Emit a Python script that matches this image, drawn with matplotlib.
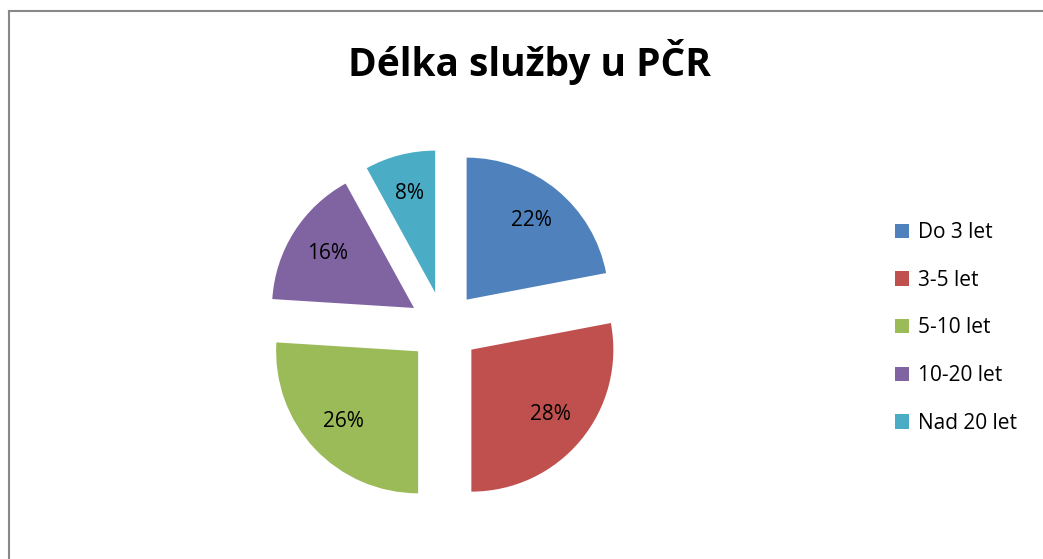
import numpy as np
from matplotlib import pyplot as plt
from matplotlib.lines import Line2D

plt.rcParams['font.family'] = ['Open Sans', 'DejaVu Sans']

# data
labels = ["Do 3 let", "3-5 let", "5-10 let", "10-20 let", "Nad 20 let"]
shares = [22, 28, 26, 16, 8]
colors = ["#4F81BD", "#C0504D", "#9BBB59", "#8064A2", "#4BACC6"]
title = "Délka služby u PČR"

W, H = 1043, 559
fig = plt.figure(figsize=(W / 100, H / 100), dpi=100)

# pie axes: centre (444, 327) px, radius 142 px
cx, cy, R, half = 444, 327, 142, 200
ax = fig.add_axes([(cx - half) / W, 1 - (cy + half) / H, 2 * half / W, 2 * half / H])
wedges, _, autotexts = ax.pie(
    shares, colors=colors, startangle=90, counterclock=False,
    explode=[0.25] * len(shares), autopct="%d%%", pctdistance=0.72,
    wedgeprops=dict(linewidth=0), textprops=dict(fontsize=15, color="black"),
)
lim = half / R
ax.set_xlim(-lim, lim)
ax.set_ylim(-lim, lim)
ax.set_aspect("equal")
ax.axis("off")

# title
fig.text(529 / W, 1 - 62 / H, title, ha="center", va="center",
         fontsize=28, fontweight="bold")

# legend
fig.legend(wedges, labels, loc="center left", bbox_to_anchor=(895 / W, 1 - 328 / H),
           frameon=False, fontsize=15, handlelength=0.68, handleheight=0.68,
           handletextpad=0.4, labelspacing=1.28, borderpad=0, borderaxespad=0)

# chart area border (left and top)
fig.add_artist(Line2D([8.5 / W, 8.5 / W], [0, 1 - 10.5 / H], color="#888888", lw=1.5))
fig.add_artist(Line2D([8.5 / W, 1], [1 - 10.5 / H, 1 - 10.5 / H], color="#888888", lw=1.5))

plt.savefig("out.png", dpi=100)
plt.close()
